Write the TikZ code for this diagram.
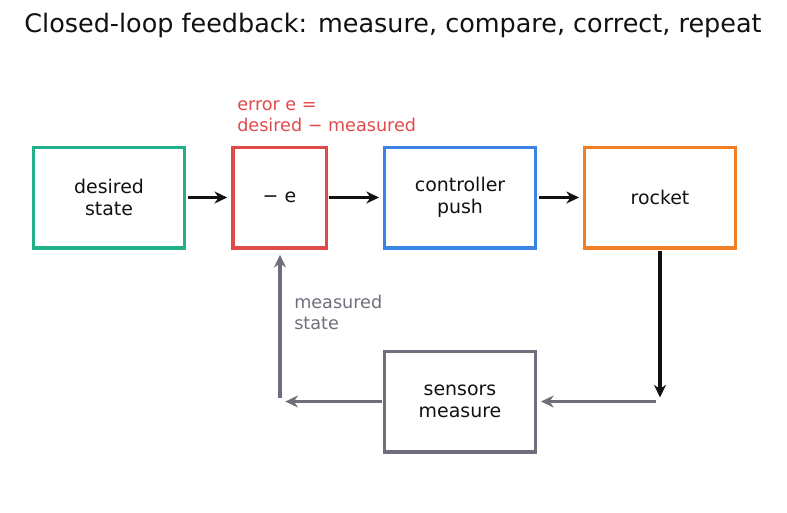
\documentclass[tikz,border=0pt]{standalone}
\usepackage{fontspec}
\setmainfont{DejaVu Sans}
\usepackage{xcolor}
\usepackage{tikz}
\usetikzlibrary{arrows.meta}

\definecolor{cgreen}{HTML}{21B087}
\definecolor{cred}{HTML}{E04A4A}
\definecolor{cblue}{HTML}{3C83E6}
\definecolor{corange}{HTML}{F07E24}
\definecolor{cgray}{HTML}{6E6F7B}
\definecolor{ctext}{HTML}{111111}

\tikzset{
  block/.style={draw, line width=2.5pt, minimum width=113pt, minimum height=75.5pt,
    align=center, font=\fontsize{14.2}{16.5}\selectfont, text=ctext},
  flow/.style={line width=2.6pt, ctext, -{Stealth[length=9.5pt,width=9pt]}},
  back/.style={line width=2.6pt, cgray, -{Stealth[length=9.5pt,width=9pt]}},
  note/.style={align=left, anchor=north west, inner sep=0pt, font=\fontsize{13.2}{15.8}\selectfont}
}

\begin{document}
\begin{tikzpicture}[x=0.75pt, y=-0.75pt]
\useasboundingbox (0,0) rectangle (787,512);

\node[font=\fontsize{19.1}{22}\selectfont, text=ctext] (title) at (393,25) {Closed-loop feedback: measure, compare, correct, repeat};

\node[block, draw=cgreen] (desired) at (109,197.5) {desired\\state};
\node[block, draw=cred, minimum width=70pt] (err) at (279.5,197.5) {− e};
\node[block, draw=cblue] (ctrl) at (460,197.5) {controller\\push};
\node[block, draw=corange] (rocket) at (660,197.5) {rocket};
\node[block, draw=cgray] (sens) at (460,401.5) {sensors\\measure};

\node[note, text=cred] (errlbl) at (237,100) {error e =\\desired − measured};
\node[note, text=cgray] (measlbl) at (294,295) {measured\\state};

% forward path
\draw[flow] (desired.east) ++(1.5,0) -- ([xshift=-3]err.west);
\draw[flow] (err.east) ++(1.5,0) -- ([xshift=-3]ctrl.west);
\draw[flow] (ctrl.east) ++(1.5,0) -- ([xshift=-3]rocket.west);

% feedback path
\coordinate (rbot) at (660,401.5);
\coordinate (lbot) at (280,401.5);
\draw[flow] (rocket.south) ++(0,1.5) -- ([yshift=3]rbot);
\draw[back] ([xshift=-3]rbot) -- ([xshift=3]sens.east);
\draw[back] (sens.west) ++(-1.5,0) -- ([xshift=4]lbot);
\draw[back] ([yshift=3]lbot) -- ([yshift=-4]err.south -| lbot);
\end{tikzpicture}
\end{document}
